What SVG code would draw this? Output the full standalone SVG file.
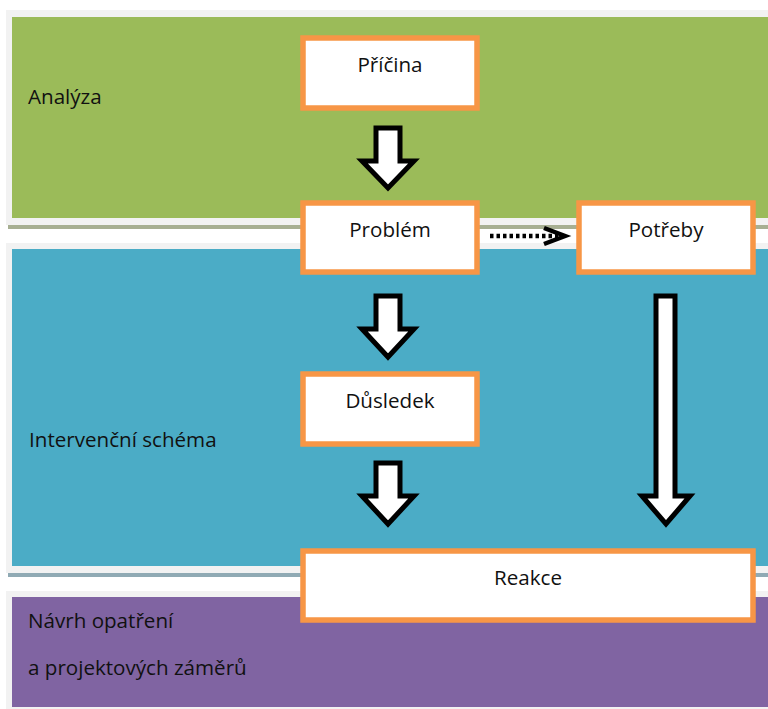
<svg xmlns="http://www.w3.org/2000/svg" width="768" height="709" viewBox="0 0 768 709">
<style>
  .lbl { font-family: "Open Sans", "Liberation Sans", sans-serif; font-size: 20.6px; fill: #111; }
  .mid { text-anchor: middle; }
  .node { fill: #FFFFFF; stroke: #F79646; stroke-width: 5.5; }
  .blk { fill: #FFFFFF; stroke: #000000; stroke-width: 5; stroke-linejoin: miter; stroke-miterlimit: 10; }
  .frame { fill: #F2F2F2; }
</style>
<rect width="768" height="709" fill="#FFFFFF"/>
<g id="band-analyza">
  <rect class="frame" x="6" y="10" width="762" height="215"/>
  <rect x="8" y="225" width="760" height="4" fill="#A7AF92"/>
  <rect x="12" y="17" width="756" height="201" fill="#9BBB59"/>
  <text class="lbl" x="28" y="104">Analýza</text>
</g>
<g id="band-intervencni">
  <rect class="frame" x="6" y="243" width="762" height="330"/>
  <rect x="8" y="573" width="760" height="4" fill="#90AAB4"/>
  <rect x="12" y="249" width="756" height="317" fill="#4BACC6"/>
  <text class="lbl" x="29" y="447">Intervenční schéma</text>
</g>
<g id="band-navrh">
  <rect class="frame" x="6" y="591" width="762" height="118"/>
  <rect x="12" y="597" width="756" height="110" fill="#8064A2"/>
  <text class="lbl" x="28" y="628">Návrh opatření</text>
  <text class="lbl" x="28" y="675">a projektových záměrů</text>
</g>
<g id="connectors">
  <polygon class="blk" points="376,128 400,128 400,161 414,161 388,188 362,161 376,161"/>
  <polygon class="blk" points="376,296 400,296 400,329 414,329 388,357 362,329 376,329"/>
  <polygon class="blk" points="376,463 400,463 400,496 414,496 388,524 362,496 376,496"/>
  <polygon class="blk" points="656,296 675,296 675,496 690,496 666,524 642,496 656,496"/>
  <line x1="490" y1="236" x2="558" y2="236" stroke="#000" stroke-width="4.5" stroke-dasharray="3.5,3"/>
  <polyline points="544,228 565,236 544,244" fill="none" stroke="#000" stroke-width="4.5" stroke-linejoin="miter"/>
</g>
<g id="node-pricina">
  <rect class="node" x="303" y="38" width="174" height="70"/>
  <text class="lbl mid" x="390" y="72">Příčina</text>
</g>
<g id="node-problem">
  <rect class="node" x="303" y="203" width="174" height="69"/>
  <text class="lbl mid" x="390" y="237">Problém</text>
</g>
<g id="node-potreby">
  <rect class="node" x="579" y="203" width="174" height="69"/>
  <text class="lbl mid" x="666" y="237">Potřeby</text>
</g>
<g id="node-dusledek">
  <rect class="node" x="303" y="374" width="174" height="70"/>
  <text class="lbl mid" x="390" y="408">Důsledek</text>
</g>
<g id="node-reakce">
  <rect class="node" x="303" y="551" width="450" height="69"/>
  <text class="lbl mid" x="528" y="585">Reakce</text>
</g>
</svg>
